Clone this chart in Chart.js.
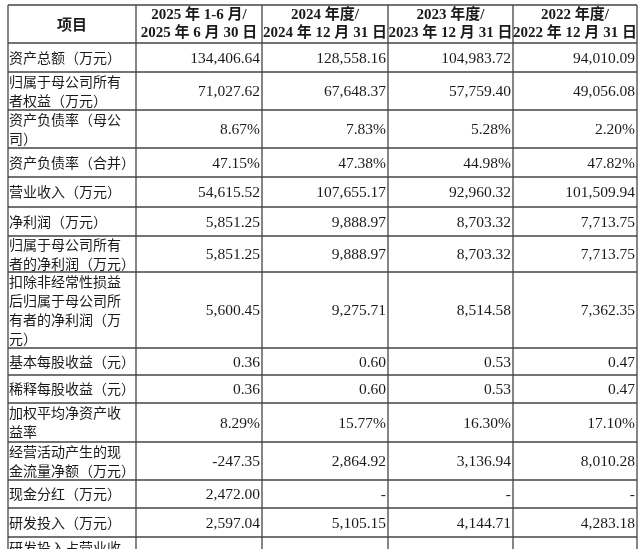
<!DOCTYPE html>
<html><head><meta charset="utf-8">
<script src="https://cdn.jsdelivr.net/npm/chart.js@4"></script>
<style>html,body{margin:0;padding:0;background:#fff;overflow:hidden}</style>
</head><body>
<canvas id="tbl" width="638" height="549"></canvas>
<script>
const headers = ['项目', '2025 年 1-6 月/\n2025 年 6 月 30 日', '2024 年度/\n2024 年 12 月 31 日', '2023 年度/\n2023 年 12 月 31 日', '2022 年度/\n2022 年 12 月 31 日'];
const items = ['资产总额（万元）', '归属于母公司所有\n者权益（万元）', '资产负债率（母公\n司）', '资产负债率（合并）', '营业收入（万元）', '净利润（万元）', '归属于母公司所有\n者的净利润（万元）', '扣除非经常性损益\n后归属于母公司所\n有者的净利润（万\n元）', '基本每股收益（元）', '稀释每股收益（元）', '加权平均净资产收\n益率', '经营活动产生的现\n金流量净额（万元）', '现金分红（万元）', '研发投入（万元）', '研发投入占营业收'];
const v2025 = ['134,406.64', '71,027.62', '8.67%', '47.15%', '54,615.52', '5,851.25', '5,851.25', '5,600.45', '0.36', '0.36', '8.29%', '-247.35', '2,472.00', '2,597.04', ''];
const v2024 = ['128,558.16', '67,648.37', '7.83%', '47.38%', '107,655.17', '9,888.97', '9,888.97', '9,275.71', '0.60', '0.60', '15.77%', '2,864.92', '-', '5,105.15', ''];
const v2023 = ['104,983.72', '57,759.40', '5.28%', '44.98%', '92,960.32', '8,703.32', '8,703.32', '8,514.58', '0.53', '0.53', '16.30%', '3,136.94', '-', '4,144.71', ''];
const v2022 = ['94,010.09', '49,056.08', '2.20%', '47.82%', '101,509.94', '7,713.75', '7,713.75', '7,362.35', '0.47', '0.47', '17.10%', '8,010.28', '-', '4,283.18', ''];

// layout (pixel grid of the table)
const colEdges = [8, 136, 262, 388, 513, 637];
const rowEdges = [5, 43, 72, 110, 148, 177, 207, 236, 272, 348, 375, 403, 442, 480, 508, 537, 575];

const CJK = '"Noto Sans CJK SC", sans-serif';
const NUM = '"Liberation Serif", "Noto Sans CJK SC", serif';

const tablePlugin = {
  id: 'tablePlugin',
  afterDraw(chart) {
    const {ctx, scales: {x, y}} = chart;
    const cols = [v2025, v2024, v2023, v2022];
    ctx.save();
    ctx.fillStyle = '#fff';
    ctx.fillRect(0, 0, chart.width, chart.height);
    // grid
    ctx.strokeStyle = '#444';
    ctx.lineWidth = 1.3;
    rowEdges.forEach(r => {
      ctx.beginPath();
      ctx.moveTo(x.getPixelForValue(colEdges[0]), y.getPixelForValue(r));
      ctx.lineTo(x.getPixelForValue(colEdges[5]), y.getPixelForValue(r));
      ctx.stroke();
    });
    colEdges.forEach(c => {
      ctx.beginPath();
      ctx.moveTo(x.getPixelForValue(c), y.getPixelForValue(rowEdges[0]));
      ctx.lineTo(x.getPixelForValue(c), y.getPixelForValue(rowEdges[rowEdges.length - 1]));
      ctx.stroke();
    });
    ctx.fillStyle = '#1a1a1a';
    ctx.textBaseline = 'middle';
    // header
    headers.forEach((h, i) => {
      const lines = h.split('\n');
      const cx = (x.getPixelForValue(colEdges[i]) + x.getPixelForValue(colEdges[i + 1])) / 2;
      const cy = (y.getPixelForValue(rowEdges[0]) + y.getPixelForValue(rowEdges[1])) / 2;
      ctx.textAlign = 'center';
      ctx.font = 'bold 15px ' + (i === 0 ? CJK : NUM);
      lines.forEach((l, k) => ctx.fillText(l, cx, cy + (k - (lines.length - 1) / 2) * 18));
    });
    // body rows
    items.forEach((it, r) => {
      const top = y.getPixelForValue(rowEdges[r + 1]);
      const bot = y.getPixelForValue(rowEdges[r + 2]);
      const cy = r === items.length - 1 ? top + 11 : (top + bot) / 2;
      const lines = it.split('\n');
      ctx.textAlign = 'left';
      ctx.font = '14px ' + CJK;
      lines.forEach((l, k) => ctx.fillText(l, x.getPixelForValue(colEdges[0]) + 1, cy + (k - (lines.length - 1) / 2) * 19));
      ctx.font = '15.5px ' + NUM;
      ctx.textAlign = 'right';
      cols.forEach((col, c) => {
        ctx.fillText(col[r], x.getPixelForValue(colEdges[c + 2]) - 2, cy + 1);
      });
    });
    ctx.restore();
  }
};

new Chart(document.getElementById('tbl'), {
  type: 'scatter',
  data: {datasets: [{data: [], showLine: false}]},
  options: {
    responsive: false,
    animation: false,
    layout: {padding: 0},
    plugins: {legend: {display: false}, tooltip: {enabled: false}},
    scales: {
      x: {type: 'linear', min: 0, max: 638, display: false},
      y: {type: 'linear', min: 0, max: 549, reverse: true, display: false}
    }
  },
  plugins: [tablePlugin]
});
</script>
</body></html>
